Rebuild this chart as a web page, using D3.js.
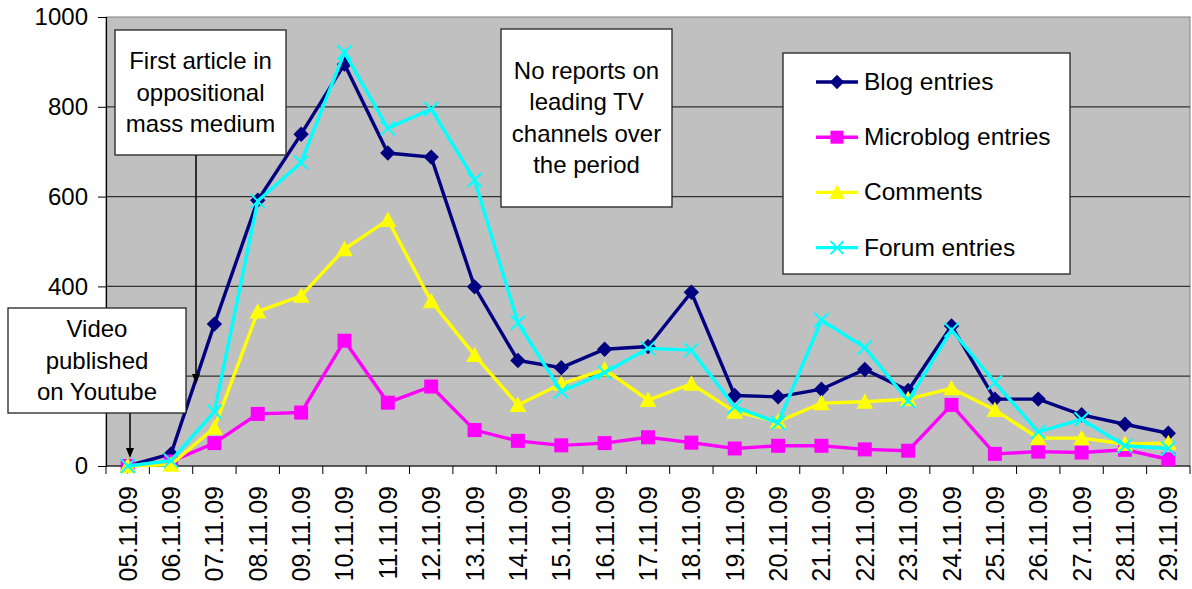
<!DOCTYPE html>
<html>
<head>
<meta charset="utf-8">
<script src="https://cdn.jsdelivr.net/npm/d3@7"></script>
<style>
  body { margin: 0; background: #fff; }
  text { font-family: "Liberation Sans", Arial, sans-serif; }
</style>
</head>
<body>
<div id="graph"></div>
<script>

// categories (days)
var days = ["05.11.09","06.11.09","07.11.09","08.11.09","09.11.09","10.11.09","11.11.09","12.11.09",
  "13.11.09","14.11.09","15.11.09","16.11.09","17.11.09","18.11.09","19.11.09","20.11.09","21.11.09",
  "22.11.09","23.11.09","24.11.09","25.11.09","26.11.09","27.11.09","28.11.09","29.11.09"];

// series values
var blogEntries      = [0, 27, 316, 592, 739, 895, 697, 688, 399, 235, 219, 260, 266, 387, 157, 154, 171, 215, 168, 312, 149, 149, 114, 93, 73];
var microblogEntries = [0, 10, 51, 116, 119, 279, 141, 177, 80, 56, 46, 51, 64, 52, 39, 45, 45, 37, 34, 136, 27, 32, 30, 36, 15];
var comments         = [0, 3, 85, 344, 379, 483, 548, 367, 247, 136, 183, 215, 147, 183, 121, 99, 140, 143, 149, 173, 125, 62, 62, 49, 51];
var forumEntries     = [0, 12, 121, 590, 676, 921, 752, 795, 637, 319, 166, 208, 262, 258, 132, 96, 325, 264, 145, 303, 186, 76, 104, 45, 39];

// y axis ticks (200 label sits under the "Video" box, so it is not printed)
var yTicks = [0, 200, 400, 600, 800, 1000];

var seriesNames = ["Blog entries", "Microblog entries", "Comments", "Forum entries"];

var series = [
  {name: seriesNames[0], values: blogEntries,      color: "#000080", symbol: "diamond"},
  {name: seriesNames[1], values: microblogEntries, color: "#ff00ff", symbol: "square"},
  {name: seriesNames[2], values: comments,         color: "#ffff00", symbol: "triangle"},
  {name: seriesNames[3], values: forumEntries,     color: "#00ffff", symbol: "cross"}
];

// set the dimensions and margins of the graph
var margin = {top: 17, right: 2, bottom: 123, left: 106},
    width = 1192 - margin.left - margin.right,
    height = 589 - margin.top - margin.bottom;

var svg = d3.select("#graph")
  .append("svg")
    .attr("width", 1192)
    .attr("height", 589)
  .append("g")
    .attr("transform", "translate(" + margin.left + "," + margin.top + ")");

var x = d3.scaleBand()
  .domain(days)
  .range([0, width]);

var y = d3.scaleLinear()
  .domain([0, 1000])
  .range([height, 0]);

// plot area
svg.append("rect")
  .attr("width", width)
  .attr("height", height)
  .attr("fill", "#c0c0c0")
  .attr("stroke", "#808080")
  .attr("stroke-width", 1);

// gridlines
svg.append("g")
  .selectAll("line")
  .data(yTicks.filter(function(d){ return d > 0 && d < 1000; }))
  .enter()
  .append("line")
    .attr("x1", 0).attr("x2", width)
    .attr("y1", function(d){ return y(d); })
    .attr("y2", function(d){ return y(d); })
    .attr("stroke", "#333")
    .attr("stroke-width", 1.2);

// Y axis
var yAxis = svg.append("g")
  .call(d3.axisLeft(y).tickValues(yTicks)
    .tickFormat(function(d){ return d == 200 ? "" : d3.format("d")(d); })
    .tickSize(8).tickPadding(10));
yAxis.select(".domain").attr("stroke", "#000").attr("stroke-width", 1.2);
yAxis.selectAll("text")
  .style("font-size", "24px")
  .style("font-family", "Liberation Sans, Arial, sans-serif")
  .attr("fill", "#000");

// X axis: ticks at category boundaries
var xAxis = svg.append("g")
  .attr("transform", "translate(0," + height + ")");
xAxis.append("line")
  .attr("x1", 0).attr("x2", width)
  .attr("stroke", "#000").attr("stroke-width", 1.2);
xAxis.selectAll(".tick")
  .data(days)
  .enter()
  .append("line")
    .attr("x1", function(d){ return x(d); })
    .attr("x2", function(d){ return x(d); })
    .attr("y1", 0).attr("y2", 8)
    .attr("stroke", "#000");
xAxis.append("line")
  .attr("x1", width).attr("x2", width).attr("y1", 0).attr("y2", 8).attr("stroke", "#000");
xAxis.selectAll(".lbl")
  .data(days)
  .enter()
  .append("text")
    .attr("transform", function(d){
      return "translate(" + (x(d) + x.bandwidth() / 2 + 9) + ",20) rotate(-90)"; })
    .attr("text-anchor", "end")
    .style("font-size", "25px")
    .text(function(d){ return d; });

// markers
function drawMarker(g, symbol, color, size) {
  if (symbol == "diamond") {
    var h = size * 0.55;
    g.append("path").attr("d", "M0," + (-h) + "L" + h + ",0L0," + h + "L" + (-h) + ",0Z")
      .attr("fill", color);
  } else if (symbol == "square") {
    g.append("rect").attr("x", -size / 2).attr("y", -size / 2)
      .attr("width", size).attr("height", size).attr("fill", color);
  } else if (symbol == "triangle") {
    g.append("path").attr("d", "M0," + (-size * 0.6) + "L" + (size * 0.6) + "," + (size * 0.5) + "L" + (-size * 0.6) + "," + (size * 0.5) + "Z")
      .attr("fill", color);
  } else {
    var s = size / 2;
    g.append("path").attr("d", "M" + (-s) + "," + (-s) + "L" + s + "," + s + "M" + (-s) + "," + s + "L" + s + "," + (-s))
      .attr("stroke", color).attr("stroke-width", 2).attr("fill", "none");
  }
}

// lines
var line = d3.line()
  .x(function(d, i){ return x(days[i]) + x.bandwidth() / 2; })
  .y(function(d){ return y(d); });

series.forEach(function(s){
  svg.append("path")
    .datum(s.values)
    .attr("fill", "none")
    .attr("stroke", s.color)
    .attr("stroke-width", 3.4)
    .attr("stroke-linejoin", "miter")
    .attr("d", line);

  svg.append("g")
    .selectAll("g")
    .data(s.values)
    .enter()
    .append("g")
      .attr("transform", function(d, i){
        return "translate(" + (x(days[i]) + x.bandwidth() / 2) + "," + y(d) + ")"; })
      .each(function(){ drawMarker(d3.select(this), s.symbol, s.color, 14); });
});

// annotation boxes (in svg page coords)
var page = d3.select("svg");

function textBox(x0, y0, w, h, lines, lineH) {
  var g = page.append("g");
  g.append("rect")
    .attr("x", x0).attr("y", y0).attr("width", w).attr("height", h)
    .attr("fill", "#fff").attr("stroke", "#222").attr("stroke-width", 1.3);
  var startY = y0 + h / 2 - (lines.length - 1) * lineH / 2 + 8;
  g.selectAll("text")
    .data(lines)
    .enter()
    .append("text")
      .attr("x", x0 + w / 2)
      .attr("y", function(d, i){ return startY + i * lineH; })
      .attr("text-anchor", "middle")
      .style("font-size", "24px")
      .text(function(d){ return d; });
}

function arrow(xa, y1, y2) {
  page.append("line")
    .attr("x1", xa).attr("x2", xa).attr("y1", y1).attr("y2", y2 - 8)
    .attr("stroke", "#000").attr("stroke-width", 1.5);
  page.append("path")
    .attr("d", "M" + (xa - 4) + "," + (y2 - 10) + "L" + (xa + 4) + "," + (y2 - 10) + "L" + xa + "," + y2 + "Z")
    .attr("fill", "#000");
}

arrow(196, 155, 384);
arrow(130, 413, 458);

textBox(115, 30, 171, 125, ["First article in", "oppositional", "mass medium"], 31.5);
textBox(8, 308, 178, 105, ["Video", "published", "on Youtube"], 31.5);
textBox(501, 29, 171, 178, ["No reports on", "leading TV", "channels over", "the period"], 31.5);

// legend
var legend = page.append("g");
legend.append("rect")
  .attr("x", 783).attr("y", 53).attr("width", 287).attr("height", 221)
  .attr("fill", "#fff").attr("stroke", "#222").attr("stroke-width", 1.3);

series.forEach(function(s, i){
  var ly = 82 + i * 55.2;
  legend.append("line")
    .attr("x1", 816).attr("x2", 858).attr("y1", ly).attr("y2", ly)
    .attr("stroke", s.color).attr("stroke-width", 3.4);
  var mg = legend.append("g").attr("transform", "translate(837," + ly + ")");
  drawMarker(mg, s.symbol, s.color, 13);
  legend.append("text")
    .attr("x", 864).attr("y", ly + 8)
    .style("font-size", "24.5px")
    .text(s.name);
});

</script>
</body>
</html>
